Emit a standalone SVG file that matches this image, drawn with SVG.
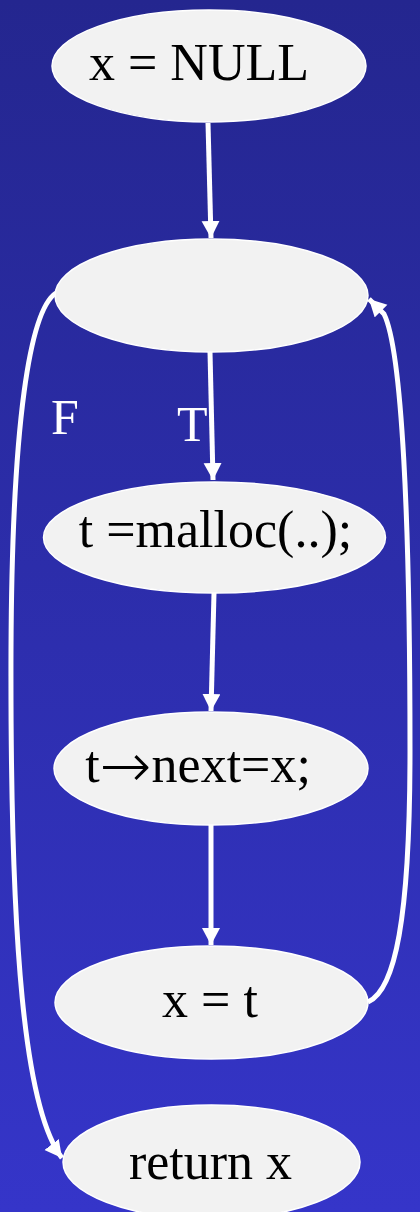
<svg xmlns="http://www.w3.org/2000/svg" width="420" height="1212" viewBox="0 0 420 1212">
<defs>
<linearGradient id="bg" x1="0" y1="0" x2="0" y2="1">
<stop offset="0" stop-color="#24268f"/>
<stop offset="1" stop-color="#3535c9"/>
</linearGradient>
<marker id="ah" markerUnits="userSpaceOnUse" markerWidth="20" markerHeight="20" refX="17" refY="9" orient="auto">
<path d="M0,0 L17,9 L0,18 z" fill="#ffffff"/>
</marker>
<style>
.node ellipse{fill:#f2f2f2;stroke:#ffffff;stroke-width:1.5}
.node text{font-family:"Liberation Serif","Times New Roman",serif;font-size:52px;fill:#000000;text-anchor:middle}
.edge{fill:none;stroke:#ffffff;stroke-width:5;marker-end:url(#ah)}
.lbl{font-family:"Liberation Serif","Times New Roman",serif;font-size:50px;fill:#ffffff}
</style>
</defs>
<rect x="0" y="0" width="420" height="1212" fill="url(#bg)"/>
<g id="connectors">
<path class="edge" d="M208,123 L211,238"/>
<path class="edge" d="M210,352 L213,480"/>
<path class="edge" d="M214,593 L211,711"/>
<path class="edge" d="M211,825 L211,945"/>
<path class="edge" d="M368,1002 C395,990 410,920 410,750 C410,520 402,350 384,314 L369,299"/>
<path class="edge" d="M56,293 C30,310 12,420 11,650 C10,950 25,1110 62,1158"/>
<text class="lbl" x="51" y="434">F</text>
<text class="lbl" x="177" y="441">T</text>
</g>
<g id="n1" class="node"><ellipse cx="209" cy="66" rx="157" ry="56"/><text x="199" y="80">x = NULL</text></g>
<g id="n2" class="node"><ellipse cx="211.5" cy="295.5" rx="156.5" ry="56.5"/></g>
<g id="n3" class="node"><ellipse cx="214.5" cy="537.5" rx="171" ry="55.5"/><text x="215.5" y="547">t =malloc(..);</text></g>
<g id="n4" class="node"><ellipse cx="211" cy="768.5" rx="157" ry="56.5"/><text x="198" y="782">t<tspan font-family="DejaVu Sans, sans-serif" font-weight="200" font-size="62" dy="5">→</tspan><tspan dy="-5">next=x;</tspan></text></g>
<g id="n5" class="node"><ellipse cx="211.5" cy="1002.5" rx="156.5" ry="56.5"/><text x="210" y="1017">x = t</text></g>
<g id="n6" class="node"><ellipse cx="211.5" cy="1162" rx="148.5" ry="57"/><text x="210.5" y="1179">return x</text></g>
</svg>
